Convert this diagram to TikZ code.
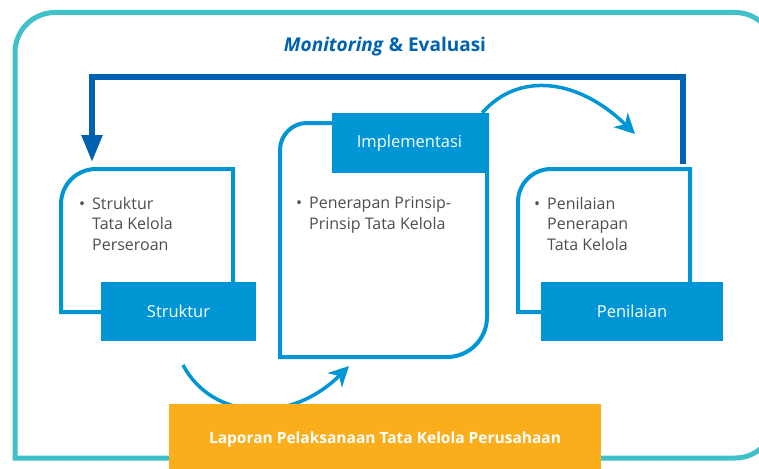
\documentclass[tikz,border=0pt]{standalone}
\usepackage{fontspec}
\setmainfont{Open Sans}
\usetikzlibrary{arrows.meta,positioning}
\definecolor{FrameClr}{RGB}{64,192,200}
\definecolor{BoxClr}{RGB}{0,150,214}
\definecolor{LoopClr}{RGB}{0,98,176}
\definecolor{ReportClr}{RGB}{251,174,27}
\definecolor{TextClr}{RGB}{77,77,77}

\tikzset{
  tagbox/.style={fill=BoxClr,text=white,minimum height=59pt,inner sep=0pt,
    font=\fontsize{16.5}{20}\selectfont},
  outline/.style={draw=BoxClr,line width=4pt},
  bullettext/.style={text=TextClr,anchor=north west,inner sep=0pt,align=left,
    font=\fontsize{16}{20.5}\selectfont},
  flowarrow/.style={draw=BoxClr,line width=3.5pt,
    -{Stealth[length=20pt,width=20pt,inset=6pt]}}
}
\newcommand{\bul}{\makebox[13pt][l]{\textbullet}}
\newcommand{\ind}{\makebox[13pt]{}}

\begin{document}
\begin{tikzpicture}[x=1pt,y=-1pt]
\clip (0,0) rectangle (759,468);

\draw[FrameClr,line width=5pt] (200,458) -- (15,458) [rounded corners=40pt]
  -- (15,12.5) -- (775,12.5) -- (775,458) -- (560,458);

\node[font=\bfseries\fontsize{19}{22}\selectfont,text=LoopClr] (judul) at (385,47)
  {\textit{Monitoring} \& Evaluasi};

\coordinate (loopstart) at (683,164);
\coordinate (looptip) at (92,162);
\draw[LoopClr,line width=5.5pt,-{Triangle[length=27pt,width=20pt]}]
  (loopstart) |- (92,77) -- (looptip);

\draw[outline] (101,312) -- (61,312) [rounded corners=35pt] -- (61,169)
  [sharp corners] -- (233,169) -- (233,285);
\draw[outline] (340,123) [rounded corners=27pt] -- (280,123) [sharp corners]
  -- (280,357) [rounded corners=40pt] -- (487,357) -- (487,113);
\draw[outline] (541,312) -- (518,312) [rounded corners=33pt] -- (518,169)
  [sharp corners] -- (690,169) -- (690,285);

\node[tagbox,minimum width=155pt] (struktur) at (178.5,311.5) {Struktur};
\node[tagbox,minimum width=155pt,minimum height=60pt] (implementasi) at (409.5,143) {Implementasi};
\node[tagbox,minimum width=182pt] (penilaian) at (632,311.5) {Penilaian};

\node[bullettext] (isistruktur) at (79,197) {\bul Struktur\\\ind Tata Kelola\\\ind Perseroan};
\node[bullettext] (isiimplementasi) at (296,197) {\bul Penerapan Prinsip-\\\ind Prinsip Tata Kelola};
\node[bullettext] (isipenilaian) at (534,197) {\bul Penilaian\\\ind Penerapan\\\ind Tata Kelola};

\coordinate (tip1) at (635,134);
\coordinate (start2) at (183,365);
\coordinate (tip2) at (349,366);
\draw[flowarrow] ([xshift=-5pt]implementasi.north east) .. controls (520,70) and (580,80) .. (tip1);
\draw[flowarrow] (start2) .. controls (212,420) and (290,425) .. (tip2);

\node[fill=ReportClr,minimum width=432pt,minimum height=70pt,inner sep=0pt,text=white,
  font=\bfseries\fontsize{15.5}{18}\selectfont] (laporan) at (385,439)
  {Laporan Pelaksanaan Tata Kelola Perusahaan};
\end{tikzpicture}
\end{document}
